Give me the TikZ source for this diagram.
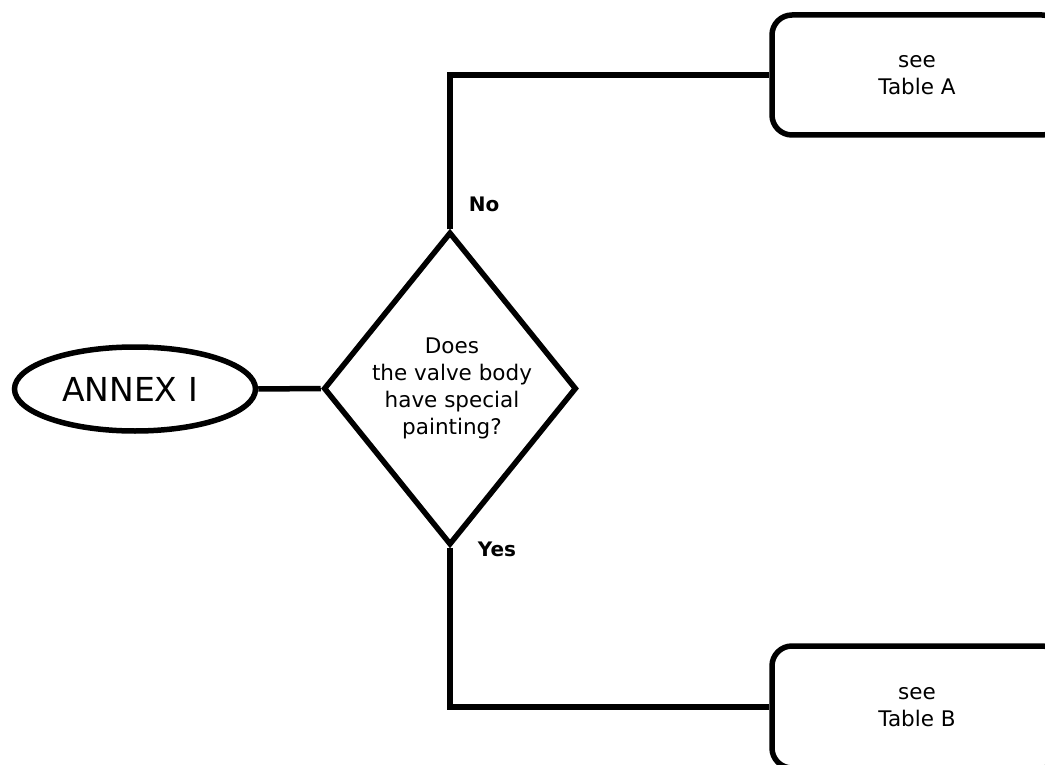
\documentclass[tikz,border=0pt]{standalone}
\usepackage{fontspec}
\setmainfont{DejaVu Sans}
\usetikzlibrary{shapes.geometric}
\begin{document}
\begin{tikzpicture}[x=1pt,y=-1pt,
  line width=5.5pt,
  txt/.style={font=\fontsize{21.5}{27}\selectfont, align=center},
  startnode/.style={draw, ellipse, minimum width=241pt, minimum height=84pt, inner sep=0pt, font=\fontsize{33}{38}\selectfont},
  decision/.style={draw, diamond, minimum width=253pt, minimum height=313pt, inner sep=0pt},
  tablebox/.style={draw, rounded corners=20pt, minimum width=290pt, inner sep=0pt, txt},
  answer/.style={font=\fontsize{20}{24}\selectfont\bfseries, inner sep=0pt},
  conn/.style={line width=5.5pt, line join=miter}
]
\useasboundingbox (0,0) rectangle (1045,765);
\clip (0,0) rectangle (1045,765);
\node[startnode, label={[font=\fontsize{33}{38}\selectfont, inner sep=0pt, xshift=-5pt]center:ANNEX I}] (annex) at (135,389) {};
\node[decision, label={[txt, inner sep=0pt, xshift=2pt]center:{Does\\the valve body\\have special\\painting?}}] (q) at (450,388.5) {};
\node[tablebox, minimum height=120pt] (ta) at (917,75) {see\\Table A};
\node[tablebox, minimum height=122pt] (tb) at (917,707) {see\\Table B};
\node[answer] (no) at (484,204) {No};
\node[answer] (yes) at (497,549) {Yes};
\draw[conn] (annex.east) -- (q.west);
\draw[conn] (q.north) |- (ta.west);
\draw[conn] (q.south) |- (tb.west);
\end{tikzpicture}
\end{document}
